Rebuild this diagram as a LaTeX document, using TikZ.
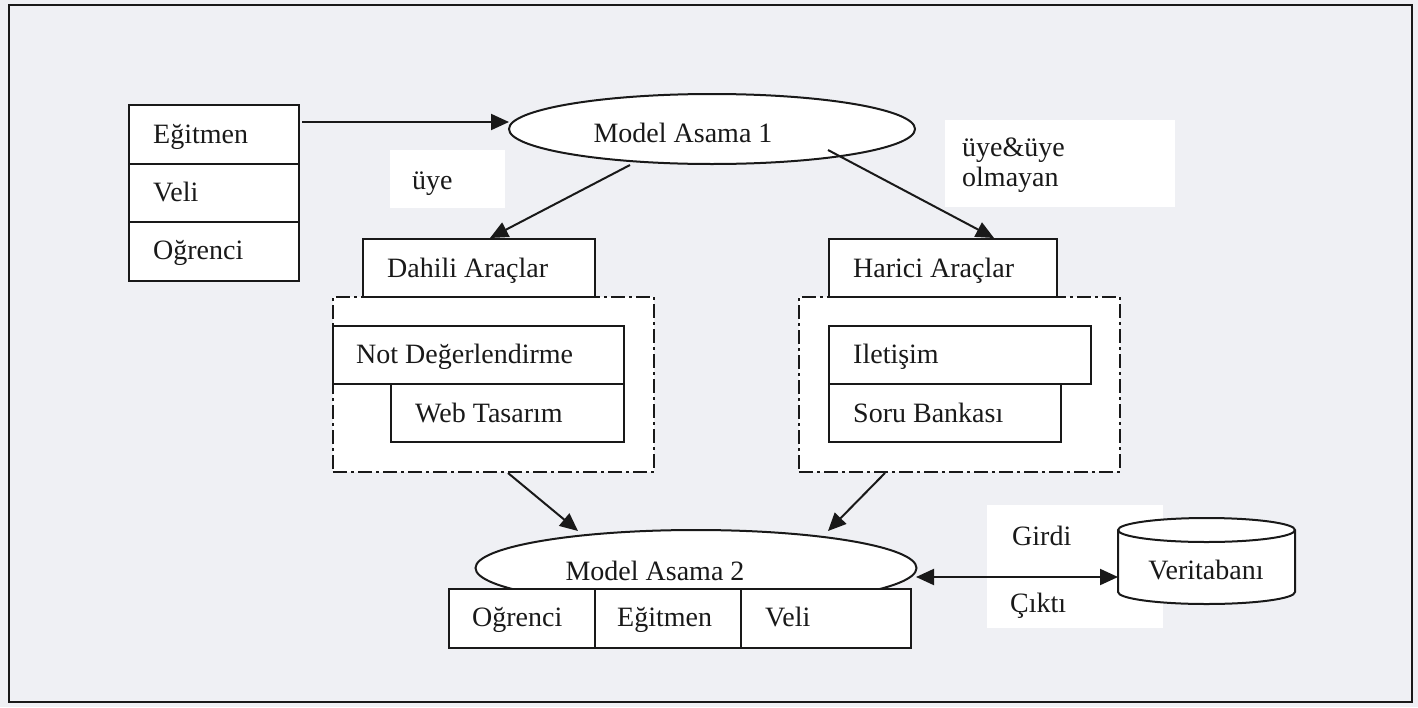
\documentclass[tikz,border=0pt]{standalone}
\usepackage{fontspec}
\setmainfont{Liberation Serif}
\usetikzlibrary{shapes.geometric,arrows.meta}
\definecolor{bg}{RGB}{239,240,244}
\definecolor{ink}{RGB}{25,25,25}
\tikzset{
  cell/.style={draw=ink, line width=2pt, fill=white, inner sep=0pt},
  lbl/.style={inner sep=0pt, font=\fontsize{28}{32}\selectfont, text=ink},
  oval/.style={ellipse, draw=ink, line width=2pt, fill=white, inner sep=0pt},
  dd/.style={draw=ink, line width=1.6pt, fill=white, dash pattern=on 14pt off 4pt on 3pt off 4pt},
  wbox/.style={fill=white, draw=none, inner sep=0pt},
  arr/.style={draw=ink, line width=2pt, -{Triangle[length=18pt,width=16pt]}},
  darr/.style={draw=ink, line width=2pt, {Triangle[length=18pt,width=16pt]}-{Triangle[length=18pt,width=16pt]}}
}
\begin{document}
\begin{tikzpicture}[x=1pt,y=-1pt]
\useasboundingbox (0,0) rectangle (1418,707);
\fill[bg] (0,0) rectangle (1418,707);
\node[draw=ink, line width=2pt, minimum width=1403pt, minimum height=697pt, anchor=north west, inner sep=0pt] (frame) at (8,4) {};

% label backgrounds
\node[wbox, minimum width=115pt, minimum height=58pt, anchor=north west] (uyebg) at (390,150) {};
\node[lbl, anchor=base west] (uye) at (412,189) {üye};
\node[wbox, minimum width=230pt, minimum height=87pt, anchor=north west] (uye2bg) at (945,120) {};
\node[lbl, anchor=base west] (uye2a) at (962,156) {üye\&üye};
\node[lbl, anchor=base west] (uye2b) at (962,186) {olmayan};

% left stack
\node[cell, minimum width=170pt, minimum height=58.5pt, anchor=north west] (l1) at (128,104) {};
\node[cell, minimum width=170pt, minimum height=58.5pt, anchor=north west] (l2) at (128,162.5) {};
\node[cell, minimum width=170pt, minimum height=58.5pt, anchor=north west] (l3) at (128,221) {};
\node[lbl, anchor=base west] (l1t) at (153,143) {Eğitmen};
\node[lbl, anchor=base west] (l2t) at (153,201) {Veli};
\node[lbl, anchor=base west] (l3t) at (153,259) {Oğrenci};

% model asama 1
\node[oval, minimum width=406pt, minimum height=70pt] (m1) at (712,129) {};
\node[lbl, anchor=base] (m1t) at (683,142) {Model Asama 1};

% dahili
\node[dd, minimum width=321pt, minimum height=175pt, anchor=north west, inner sep=0pt] (dc) at (332,296) {};
\node[cell, minimum width=232pt, minimum height=58pt, anchor=north west] (da) at (362,238) {};
\node[lbl, anchor=base west] (dat) at (387,277) {Dahili Araçlar};
\node[cell, minimum width=291pt, minimum height=58pt, anchor=north west] (nd) at (332,325) {};
\node[lbl, anchor=base west] (ndt) at (356,363) {Not Değerlendirme};
\node[cell, minimum width=233pt, minimum height=58pt, anchor=north west] (wt) at (390,383) {};
\node[lbl, anchor=base west] (wtt) at (415,422) {Web Tasarım};

% harici
\node[dd, minimum width=321pt, minimum height=175pt, anchor=north west, inner sep=0pt] (hc) at (798,296) {};
\node[cell, minimum width=228pt, minimum height=58pt, anchor=north west] (ha) at (828,238) {};
\node[lbl, anchor=base west] (hat) at (853,277) {Harici Araçlar};
\node[cell, minimum width=262pt, minimum height=58pt, anchor=north west] (il) at (828,325) {};
\node[lbl, anchor=base west] (ilt) at (853,363) {Iletişim};
\node[cell, minimum width=232pt, minimum height=58pt, anchor=north west] (sb) at (828,383) {};
\node[lbl, anchor=base west] (sbt) at (853,422) {Soru Bankası};

% model asama 2
\node[oval, minimum width=441pt, minimum height=76pt] (m2) at (696,568) {};
\node[lbl, anchor=base] (m2t) at (655,580) {Model Asama 2};
\node[cell, minimum width=146pt, minimum height=59pt, anchor=north west] (b1) at (448,588) {};
\node[cell, minimum width=146pt, minimum height=59pt, anchor=north west] (b2) at (594,588) {};
\node[cell, minimum width=170pt, minimum height=59pt, anchor=north west] (b3) at (740,588) {};
\node[lbl, anchor=base west] (b1t) at (472,626) {Oğrenci};
\node[lbl, anchor=base west] (b2t) at (617,626) {Eğitmen};
\node[lbl, anchor=base west] (b3t) at (765,626) {Veli};

% girdi / cikti
\node[wbox, minimum width=176pt, minimum height=123pt, anchor=north west] (iobg) at (987,505) {};
\node[lbl, anchor=base west] (girdi) at (1012,545) {Girdi};
\node[lbl, anchor=base west] (cikti) at (1010,612) {Çıktı};

% database cylinder
\draw[draw=ink, line width=2pt, fill=white] (1118,530) -- (1118,592) arc[start angle=180, end angle=360, x radius=88.5pt, y radius=12pt] -- (1295,530) arc[start angle=0, end angle=180, x radius=88.5pt, y radius=12pt] -- cycle;
\draw[draw=ink, line width=2pt] (1118,530) arc[start angle=180, end angle=360, x radius=88.5pt, y radius=12pt];
\node[minimum width=177pt, minimum height=86pt, inner sep=0pt] (db) at (1206.5,561) {};
\node[lbl, anchor=base] (dbt) at (1206,579) {Veritabanı};

% connectors
\coordinate (a1s) at (302,122);
\coordinate (m1in) at (509,122);
\draw[arr] (a1s) -- (m1in);
\coordinate (m1sw) at (630,165);
\coordinate (dain) at (490,238);
\draw[arr] (m1sw) -- (dain);
\coordinate (m1se) at (828,150);
\coordinate (hain) at (994,238);
\draw[arr] (m1se) -- (hain);
\coordinate (dcout) at (508,473);
\coordinate (m2inl) at (578,531);
\draw[arr] (dcout) -- (m2inl);
\coordinate (hcout) at (885,473);
\coordinate (m2inr) at (828,531);
\draw[arr] (hcout) -- (m2inr);
\coordinate (m2e) at (916,577);
\coordinate (dbw) at (1118,577);
\draw[darr] (m2e) -- (dbw);
\end{tikzpicture}
\end{document}
